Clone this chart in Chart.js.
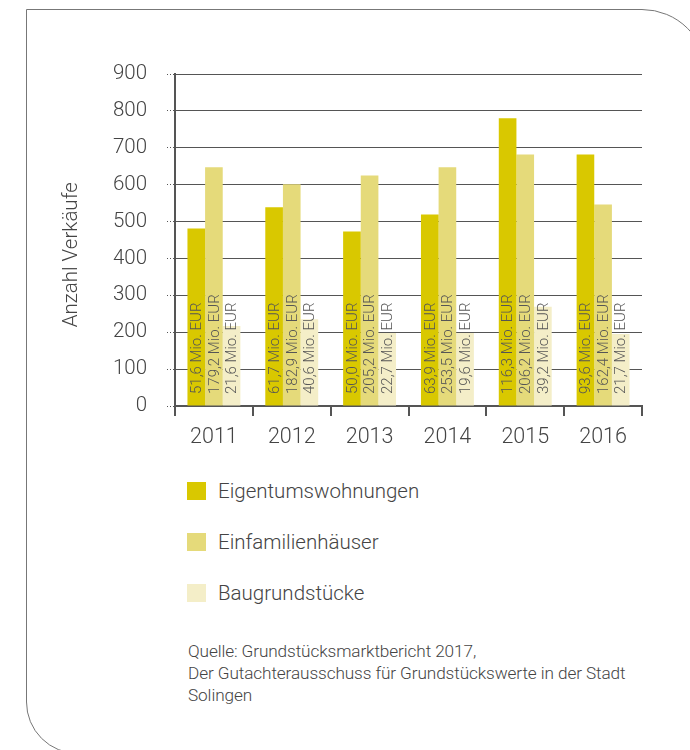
<!doctype html>
<html lang="de">
  <head>
    <meta charset="utf-8">
    <title>Anzahl Verkäufe Solingen</title>
    <style>
      * { margin: 0; padding: 0; }
      body { width: 690px; height: 750px; overflow: hidden; background: #fff; position: relative; font-family: Roboto, sans-serif; color: #444; }
      .frame {
        position: absolute; left: 26px; top: 9px; width: 679px; height: 743px;
        border: 1.5px solid #777; border-top-right-radius: 65px; border-bottom-left-radius: 52px;
      }
      .chartBox { position: absolute; left: 0; top: 0; width: 690px; height: 470px; }
      .legend { position: absolute; left: 187px; top: 482px; }
      .legend div { height: 51px; display: flex; align-items: flex-start; font-size: 20.5px; font-weight: 300; color: #444; }
      .legend span { display: inline-block; width: 19px; height: 18px; margin-right: 12px; }
      .legend div p { line-height: 19px; }
      .source { position: absolute; left: 188px; top: 640px; font-size: 17.2px; line-height: 22px; color: #444; font-weight: 300; letter-spacing: -0.1px; }
    </style>
  </head>
  <body>
    <div class="frame"></div>
    <div class="chartBox"><canvas id="myChart" width="690" height="470"></canvas></div>
    <div class="legend" id="legend"></div>
    <div class="source">Quelle: Grundstücksmarktbericht 2017,<br>Der Gutachterausschuss für Grundstückswerte in der Stadt<br>Solingen</div>
    <script src="https://cdn.jsdelivr.net/npm/chart.js"></script>
    <script>
      // data
      const years = ['2011', '2012', '2013', '2014', '2015', '2016'];
      const yTicks = [0, 100, 200, 300, 400, 500, 600, 700, 800, 900];
      const eigentum = [481, 539, 473, 519, 780, 682];
      const einfamilien = [647, 601, 625, 647, 682, 546];
      const bauland = [217, 235, 198, 198, 269, 195];
      const eigentumMio = ['51,6', '61,7', '50,0', '63,9', '116,3', '93,6'];
      const einfamilienMio = ['179,2', '182,9', '205,2', '253,5', '206,2', '162,4'];
      const baulandMio = ['21,6', '40,6', '22,7', '19,6', '39,2', '21,7'];
      const yTitle = 'Anzahl Verkäufe';

      const FONT = 'Roboto';

      // setup
      const data = {
        labels: years,
        datasets: [
          { label: 'Eigentumswohnungen', data: eigentum, mio: eigentumMio, backgroundColor: '#d9c800' },
          { label: 'Einfamilienhäuser', data: einfamilien, mio: einfamilienMio, backgroundColor: '#e5da7a' },
          { label: 'Baugrundstücke', data: bauland, mio: baulandMio, backgroundColor: '#f4eec8' }
        ]
      };

      // labels inside the bars, rotated + y title a bit below centre
      const mioLabels = {
        id: 'mioLabels',
        afterDatasetsDraw(chart) {
          const ctx = chart.ctx;
          const bottom = chart.scales.y.getPixelForValue(0);
          chart.data.datasets.forEach((ds, i) => {
            chart.getDatasetMeta(i).data.forEach((bar, j) => {
              ctx.save();
              ctx.translate(bar.x, bottom - 12);
              ctx.rotate(-Math.PI / 2);
              ctx.font = '300 15px ' + FONT;
              ctx.fillStyle = '#555';
              ctx.textAlign = 'left';
              ctx.textBaseline = 'middle';
              ctx.fillText(ds.mio[j] + ' Mio. EUR', 0, 1);
              ctx.restore();
            });
          });
          ctx.save();
          ctx.translate(72, chart.scales.y.getPixelForValue(410));
          ctx.rotate(-Math.PI / 2);
          ctx.font = '300 20.5px ' + FONT;
          ctx.fillStyle = '#444';
          ctx.textAlign = 'center';
          ctx.textBaseline = 'middle';
          ctx.fillText(yTitle, 0, 0);
          ctx.restore();
        }
      };

      // config
      const config = {
        type: 'bar',
        data,
        options: {
          responsive: false,
          animation: false,
          layout: { padding: { left: 52, top: 74, right: 48, bottom: 0 } },
          datasets: { bar: { categoryPercentage: 0.68, barPercentage: 1.0 } },
          plugins: { legend: { display: false }, tooltip: { enabled: false } },
          scales: {
            x: {
              grid: { display: true, drawOnChartArea: false, drawTicks: true, tickLength: 10, color: '#555', lineWidth: 2 },
              border: { display: true, color: '#555', width: 2 },
              ticks: { color: '#444', padding: 9, font: { family: FONT, size: 21.5, weight: '300' } },
              afterFit(s) { s.height = 64; }
            },
            y: {
              min: 0, max: 900,
              afterBuildTicks(s) { s.ticks = yTicks.map(v => ({ value: v })); },
              grid: { color: '#555', lineWidth: 1, tickLength: 8, drawTicks: true, borderDash: [1, 2], tickBorderDash: [1, 2] },
              border: { display: true, color: '#555', width: 2 },
              ticks: { color: '#444', padding: 20, font: { family: FONT, size: 20.5, weight: '300' } },
              afterFit(s) { s.width = 123; }
            }
          }
        },
        plugins: [mioLabels]
      };

      const myChart = new Chart(document.getElementById('myChart'), config);

      // legend from dataset labels
      const legend = document.getElementById('legend');
      data.datasets.forEach(ds => {
        const row = document.createElement('div');
        const sw = document.createElement('span');
        sw.style.background = ds.backgroundColor;
        const t = document.createElement('p');
        t.textContent = ds.label;
        row.appendChild(sw);
        row.appendChild(t);
        legend.appendChild(row);
      });
    </script>
  </body>
</html>
